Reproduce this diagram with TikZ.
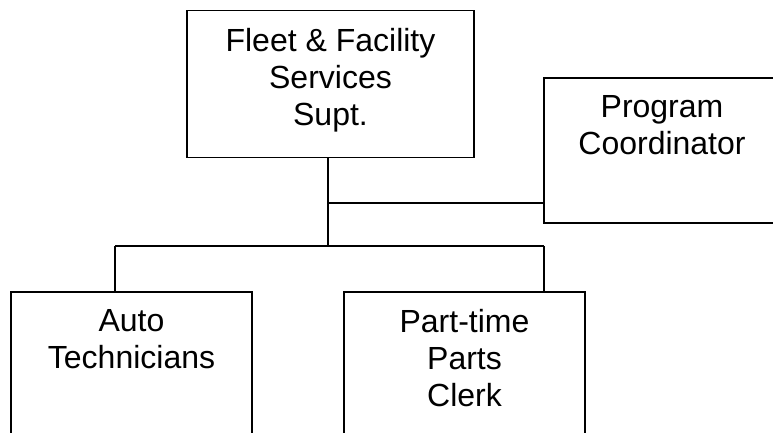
\documentclass[tikz,border=0pt]{standalone}
\usepackage{fontspec}
\setmainfont{Liberation Sans}

\begin{document}
\begin{tikzpicture}[x=1pt, y=-1pt,
    box/.style={draw, line width=1.3pt, minimum width=241pt, minimum height=200pt, inner sep=0pt},
    lbl/.style={anchor=north, align=center, inner sep=0pt, yshift=-18pt, font=\fontsize{32}{37}\selectfont},
    link/.style={line width=1.2pt}
]
\useasboundingbox (0,0) rectangle (773,432);
\node[box, minimum width=287pt, minimum height=147pt, label={[lbl]north:{Fleet \& Facility\\Services\\Supt.}}] (supt) at (330.5,84.3) {};
\node[box, minimum width=236pt, minimum height=145pt, label={[lbl]north:{Program\\Coordinator}}] (coord) at (662,150.5) {};
\node[box, label={[lbl]north:{Auto\\Technicians}}] (auto) at (131.5,392) {};
\node[box, label={[lbl]north:{Part-time\\Parts\\Clerk}}] (clerk) at (464.5,392) {};

\coordinate (tap) at (328,203);
\coordinate (busl) at (115,246);
\coordinate (busr) at (544,246);

\draw[link] (tap |- supt.south) -- (tap |- busl);
\draw[link] (tap) -- (tap -| coord.west);
\draw[link] (busl) -- (busr);
\draw[link] (busl) -- (busl |- auto.north);
\draw[link] (busr) -- (busr |- clerk.north);
\end{tikzpicture}
\end{document}
